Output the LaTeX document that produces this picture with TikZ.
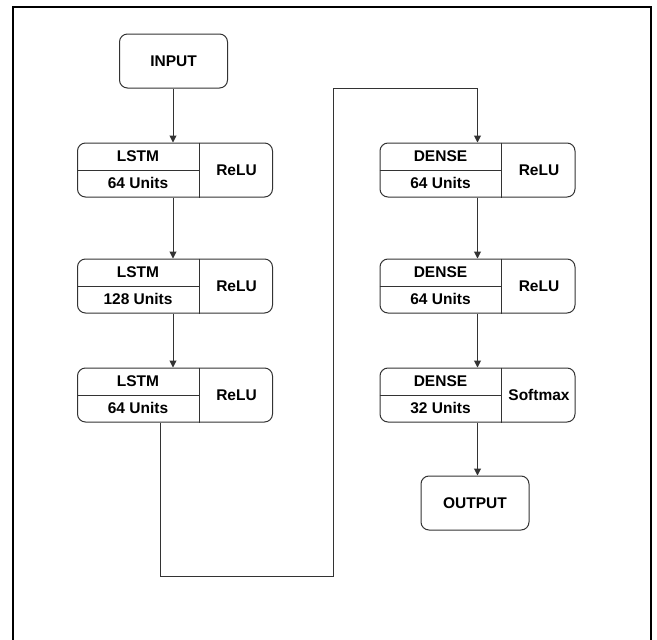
\documentclass[tikz,border=0pt]{standalone}
\usepackage{fontspec}
\setmainfont{Liberation Sans}
\usetikzlibrary{arrows.meta}
\definecolor{linec}{HTML}{333333}
\tikzset{
  box/.style={draw=linec, rounded corners=8pt, line width=1pt, inner sep=0pt, minimum height=54pt},
  layerbox/.style={box, minimum width=195pt},
  termbox/.style={box, minimum width=108pt},
  txt/.style={font=\bfseries\fontsize{15.5}{16}\selectfont, inner sep=0pt},
  divider/.style={draw=linec, line width=1pt},
  arr/.style={draw=linec, line width=1pt, -{Triangle[width=7pt,length=7pt]}},
  frame/.style={draw=black, line width=1.5pt},
}
\begin{document}
\begin{tikzpicture}[x=1pt,y=-1pt]
\useasboundingbox (0,0) rectangle (657,640);
\draw[frame] (13,641) -- (13,7) -- (651,7) -- (651,641);

% terminal boxes
\node[termbox] (in) at (173.5,61) {};
\node[txt] (intxt) at (in) {INPUT};
\node[termbox] (out) at (475,503) {};
\node[txt] (outtxt) at (out) {OUTPUT};

% layer boxes
\foreach \n/\cx/\cy/\a/\b/\c in {
  l1/175/170/LSTM/64 Units/ReLU,
  l2/175/286/LSTM/128 Units/ReLU,
  l3/175/395/LSTM/64 Units/ReLU,
  d1/477.5/170/DENSE/64 Units/ReLU,
  d2/477.5/286/DENSE/64 Units/ReLU,
  d3/477.5/395/DENSE/32 Units/Softmax}{
  \node[layerbox] (\n) at (\cx,\cy) {};
  \draw[divider] ([xshift=122pt]\n.north west) -- ([xshift=122pt]\n.south west);
  \draw[divider] (\n.west) -- ([xshift=122pt]\n.west);
  \node[txt] (\n a) at ([xshift=61pt,yshift=13.5pt]\n.west) {\a};
  \node[txt] (\n b) at ([xshift=61pt,yshift=-13pt]\n.west) {\b};
  \node[txt] (\n c) at ([xshift=-36.5pt]\n.east) {\c};
}

% connectors
\draw[arr] ([xshift=-0.5pt]in.south) -- ([xshift=-2pt]l1.north);
\draw[arr] ([xshift=-2pt]l1.south) -- ([xshift=-2pt]l2.north);
\draw[arr] ([xshift=-2pt]l2.south) -- ([xshift=-2pt]l3.north);
\coordinate (c1) at (333,576);
\coordinate (c2) at (333,88);
\draw[arr] ([xshift=-15pt]l3.south) |- (c1) -- (c2) -| (d1.north);
\draw[arr] (d1) -- (d2);
\draw[arr] (d2) -- (d3);
\draw[arr] (d3.south) -- (d3.south |- out.north);
\end{tikzpicture}
\end{document}
